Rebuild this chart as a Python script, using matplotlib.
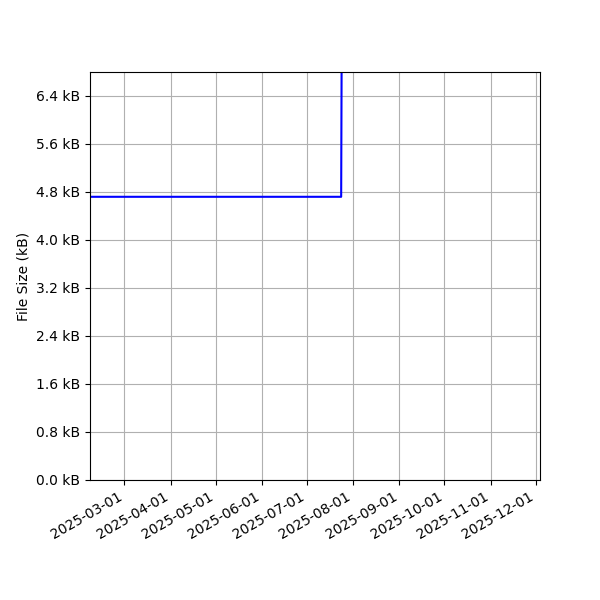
"""File size history over time."""

import matplotlib
matplotlib.use("Agg")
import matplotlib.pyplot as plt
import matplotlib.dates as mdates
import pandas as pd
from matplotlib.ticker import MultipleLocator, FuncFormatter

# file size snapshots (kB); later values run off the top of the plot
dates = pd.to_datetime(["2025-02-06", "2025-07-24", "2025-07-25", "2025-12-05"])
sizes_kb = [4.72, 4.72, 12.0, 12.5]

x_start = pd.Timestamp("2025-02-06")
x_end = pd.Timestamp("2025-12-04")

fig, ax = plt.subplots(figsize=(6, 6), dpi=100)
ax.plot(dates, sizes_kb, color="blue", linewidth=1.5)

ax.set_xlim(x_start, x_end)
ax.set_ylim(0, 6.8)
ax.yaxis.set_major_locator(MultipleLocator(0.8))
ax.yaxis.set_major_formatter(FuncFormatter(lambda v, _: f"{v:.1f} kB"))
ax.xaxis.set_major_locator(mdates.MonthLocator())
ax.xaxis.set_major_formatter(mdates.DateFormatter("%Y-%m-%d"))
ax.set_ylabel("File Size (kB)")
ax.grid(True)

fig.autofmt_xdate()
fig.subplots_adjust(left=0.15, right=0.9, top=0.88, bottom=0.2)
fig.savefig("out.png", dpi=100)
plt.close(fig)
